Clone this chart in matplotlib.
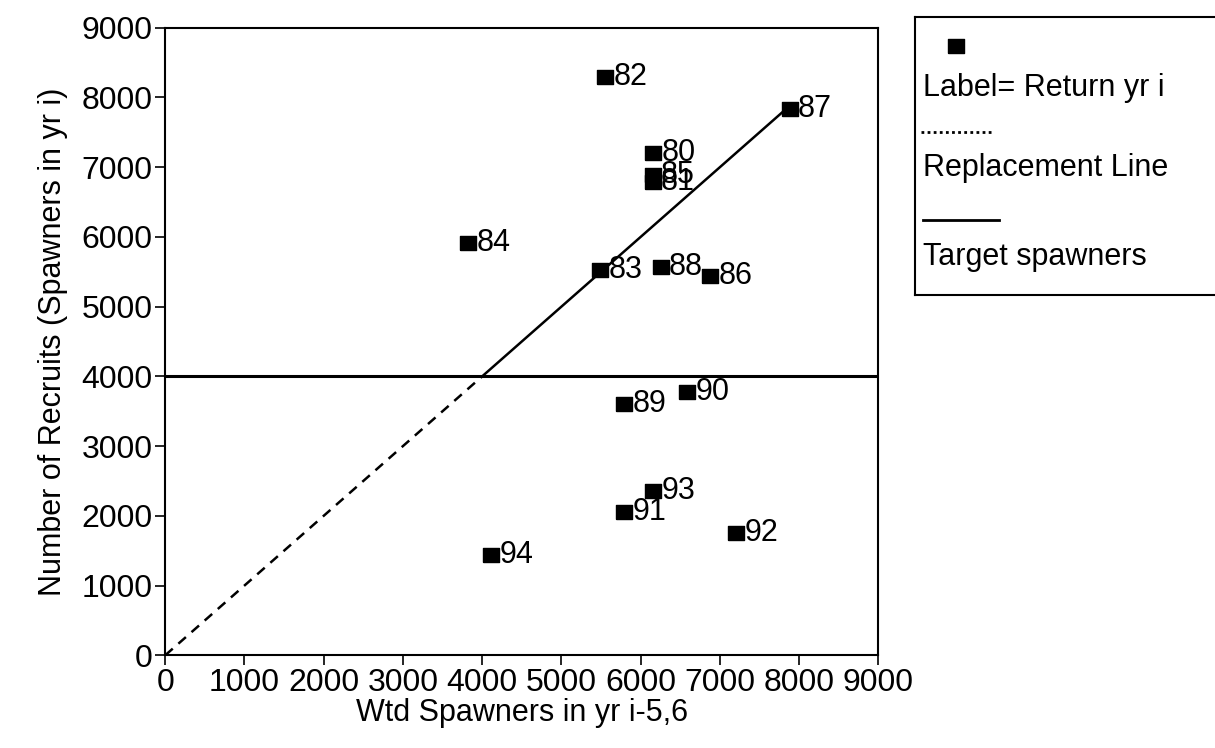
import matplotlib
matplotlib.use("Agg")
import matplotlib.pyplot as plt

plt.rcParams['font.family'] = ['Liberation Sans', 'DejaVu Sans']

# ---- data ----
years = ["80", "81", "82", "83", "84", "85", "86", "87", "88", "89", "90", "91", "92", "93", "94"]
spawners = [6160, 6150, 5550, 5490, 3820, 6150, 6880, 7880, 6250, 5790, 6590, 5790, 7200, 6160, 4110]
recruits = [7200, 6780, 8290, 5520, 5910, 6890, 5440, 7830, 5570, 3610, 3770, 2060, 1760, 2350, 1440]
target_spawners = 4000
replace_dashed = [0, 4000]      # replacement line (dashed part)
replace_solid = [4000, 7860]    # replacement line (solid part)
ticks = [0, 1000, 2000, 3000, 4000, 5000, 6000, 7000, 8000, 9000]

rect = [(-1.15, -1), (1.15, -1), (1.15, 1), (-1.15, 1), (-1.15, -1)]

fig = plt.figure(figsize=(12.15, 7.48), dpi=100)
ax = fig.add_axes([0.136, 0.124, 0.587, 0.839])

ax.plot(replace_dashed, replace_dashed, color='black', lw=1.8, dashes=(4, 3))
ax.plot(replace_solid, replace_solid, color='black', lw=1.8)
ax.plot([0, 9000], [target_spawners, target_spawners], color='black', lw=2.2)

ax.plot(spawners, recruits, linestyle='none', marker=rect, markersize=11,
        markerfacecolor='black', markeredgecolor='black')
for x, y, lab in zip(spawners, recruits, years):
    ax.annotate(lab, (x, y), xytext=(6, 0), textcoords='offset points',
                ha='left', va='center', fontsize=22)

ax.set_xlim(0, 9000)
ax.set_ylim(0, 9000)
ax.set_xticks(ticks)
ax.set_yticks(ticks)
ax.set_xticklabels([str(t) for t in ticks])
ax.set_yticklabels([str(t) for t in ticks])
ax.tick_params(direction='out', length=7, width=1.2, labelsize=23, pad=2)
for s in ax.spines.values():
    s.set_linewidth(1.5)
ax.set_xlabel("Wtd Spawners in yr i-5,6", fontsize=22, labelpad=0)
ax.set_ylabel("Number of Recruits (Spawners in yr i)", fontsize=22, labelpad=10)

# ---- legend box ----
lg = fig.add_axes([0.753, 0.606, 0.26, 0.371])
lg.set_xlim(0, 1)
lg.set_ylim(0, 1)
lg.set_xticks([])
lg.set_yticks([])
for s in lg.spines.values():
    s.set_linewidth(1.5)
lg.plot([0.13], [0.895], marker=rect, markersize=11, color='black', linestyle='none')
lg.text(0.025, 0.745, "Label= Return yr i", fontsize=22, va='center', ha='left')
lg.plot([0.02, 0.25], [0.585, 0.585], color='black', lw=2, linestyle=(0, (1, 1.2)))
lg.text(0.025, 0.455, "Replacement Line", fontsize=22, va='center', ha='left')
lg.plot([0.025, 0.265], [0.27, 0.27], color='black', lw=2)
lg.text(0.025, 0.135, "Target spawners", fontsize=22, va='center', ha='left')

fig.savefig("out.png", dpi=100)
